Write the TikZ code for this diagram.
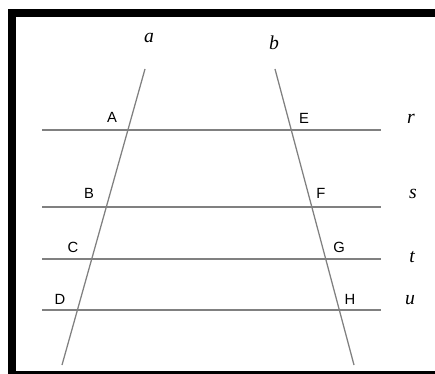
\documentclass[tikz,border=0pt]{standalone}
\usepackage{fontspec}
\setmainfont{Liberation Serif}
\newfontfamily\ptfont{Liberation Sans}
\usepackage{tikz}
\usetikzlibrary{positioning}

\tikzset{
  geoline/.style={draw=black!50, line width=0.9pt},
  ptlabel/.style={font=\ptfont\fontsize{10.5}{12}\selectfont, inner sep=0pt},
  linelabel/.style={font=\itshape\fontsize{14}{16}\selectfont, inner sep=0pt}
}

\begin{document}
\begin{tikzpicture}[x=0.025cm, y=-0.025cm]
					\useasboundingbox (0,0) rectangle (435,374);
					% frame
					\fill[black] (8,9) rectangle (435,17);
					\fill[black] (8,9) rectangle (16,374);
					\fill[black] (16,371) rectangle (435,374);
					
					% the two transversals
					\coordinate (atop) at (145,69);
					\coordinate (abot) at (62,365);
					\coordinate (btop) at (275,69);
					\coordinate (bbot) at (354,365);
					\path[geoline] (atop) edge (abot);
					\path[geoline] (btop) edge (bbot);
					\node (la) [linelabel] at (149,38) {a};
					\node (lb) [linelabel] at (274,43) {b};
					
					% the parallels
					\coordinate (rl) at (42,130); \coordinate (rr) at (381,130);
					\coordinate (sl) at (42,207); \coordinate (sr) at (381,207);
					\coordinate (tl) at (42,259); \coordinate (tr) at (381,259);
					\coordinate (ul) at (42,310); \coordinate (ur) at (381,310);
					\path[geoline] (rl) edge (rr);
					\path[geoline] (sl) edge (sr);
					\path[geoline] (tl) edge (tr);
					\path[geoline] (ul) edge (ur);
					\node (lr) [linelabel] at (411,119) {r};
					\node (ls) [linelabel] at (413,194) {s};
					\node (lt) [linelabel] at (412,257) {t};
					\node (lu) [linelabel] at (410,300) {u};
					
					% points
					\node (A) [ptlabel] at (112,117) {A};
					\node (B) [ptlabel] at (89,193) {B};
					\node (C) [ptlabel] at (73,247) {C};
					\node (D) [ptlabel] at (60,299) {D};
					\node (E) [ptlabel] at (304,118) {E};
					\node (F) [ptlabel] at (321,193) {F};
					\node (G) [ptlabel] at (339,247) {G};
					\node (H) [ptlabel] at (350,299) {H};
				\end{tikzpicture}
\end{document}
